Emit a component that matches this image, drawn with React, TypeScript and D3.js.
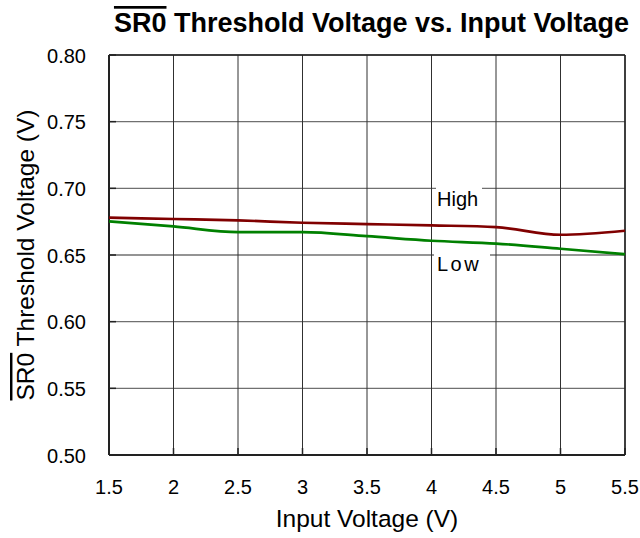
import React from "react";
import * as d3 from "d3";

const inputVoltage = [1.5, 2, 2.5, 3, 3.5, 4, 4.5, 5, 5.5];
const highThreshold = [0.678, 0.677, 0.676, 0.6742, 0.6732, 0.6722, 0.6709, 0.6652, 0.6682];
const lowThreshold = [0.6752, 0.6714, 0.6671, 0.6671, 0.6641, 0.6607, 0.6586, 0.6547, 0.6506];
const xTicks = [1.5, 2, 2.5, 3, 3.5, 4, 4.5, 5, 5.5];
const xTickLabels = ["1.5", "2", "2.5", "3", "3.5", "4", "4.5", "5", "5.5"];
const yTicks = [0.5, 0.55, 0.6, 0.65, 0.7, 0.75, 0.8];
const yTickLabels = ["0.50", "0.55", "0.60", "0.65", "0.70", "0.75", "0.80"];

const W = 640;
const H = 538;
const M = { left: 109, right: 15, top: 55, bottom: 83 };
const FONT = "'Liberation Sans', Arial, sans-serif";

export default function App() {
  const x = d3.scaleLinear().domain([1.5, 5.5]).range([M.left, W - M.right]);
  const y = d3.scaleLinear().domain([0.5, 0.8]).range([H - M.bottom, M.top]);
  const line = (vals: number[]) =>
    d3
      .line<number>()
      .x((_, i) => x(inputVoltage[i]))
      .y((d) => y(d))
      .curve(d3.curveMonotoneX)(vals) || "";
  const x0 = x(1.5), x1 = x(5.5), y0 = y(0.5), y1 = y(0.8);
  const cx = (x0 + x1) / 2;
  const cy = (y0 + y1) / 2;
  return (
    <svg width={W} height={H} style={{ position: "absolute", left: 0, top: 0, background: "#fff" }} fontFamily={FONT}>
      <rect x={0} y={0} width={W} height={H} fill="#fff" />
      {/* grid */}
      {yTicks.map((t) => (
        <line key={"gy" + t} x1={x0} x2={x1} y1={y(t)} y2={y(t)} stroke="#707070" strokeWidth={1.3} />
      ))}
      {xTicks.map((t) => (
        <line key={"gx" + t} x1={x(t)} x2={x(t)} y1={y1} y2={y0} stroke="#303030" strokeWidth={1} />
      ))}
      {/* inward ticks */}
      {yTicks.map((t) => (
        <line key={"ty" + t} x1={x0} x2={x0 + 7} y1={y(t)} y2={y(t)} stroke="#222" strokeWidth={1.5} />
      ))}
      {xTicks.map((t) => (
        <line key={"tx" + t} x1={x(t)} x2={x(t)} y1={y0} y2={y0 - 7} stroke="#222" strokeWidth={1.5} />
      ))}
      {/* frame */}
      <line x1={x0} x2={x1} y1={y1} y2={y1} stroke="#222" strokeWidth={1.5} />
      <line x1={x1} x2={x1} y1={y1} y2={y0} stroke="#222" strokeWidth={1.5} />
      <line x1={x0} x2={x0} y1={y1} y2={y0} stroke="#222" strokeWidth={2} />
      <line x1={x0} x2={x1} y1={y0} y2={y0} stroke="#222" strokeWidth={2} />
      {/* label boxes */}
      <rect x={436} y={184} width={46} height={26} fill="#fff" />
      <rect x={434} y={249} width={56} height={27} fill="#fff" />
      {/* series */}
      <path d={line(highThreshold)} fill="none" stroke="#800000" strokeWidth={2.7} />
      <path d={line(lowThreshold)} fill="none" stroke="#008000" strokeWidth={2.7} />
      <text x={437} y={206} fontSize={20} fill="#000">High</text>
      <text x={437} y={271} fontSize={20} fill="#000" letterSpacing={2.5}>Low</text>
      {/* tick labels */}
      {yTicks.map((t, i) => (
        <text key={"ly" + t} x={86} y={y(t) + 7.5} fontSize={20} textAnchor="end" fill="#000">{yTickLabels[i]}</text>
      ))}
      {xTicks.map((t, i) => (
        <text key={"lx" + t} x={x(t)} y={494} fontSize={20} textAnchor="middle" fill="#000">{xTickLabels[i]}</text>
      ))}
      {/* axis titles */}
      <text x={cx} y={527} fontSize={24.5} textAnchor="middle" fill="#000">Input Voltage (V)</text>
      <text transform={`translate(34,${cy}) rotate(-90)`} fontSize={24.5} textAnchor="middle" fill="#000">
        <tspan style={{ textDecoration: "overline" }}>SR0</tspan> Threshold Voltage (V)
      </text>
      {/* title */}
      <text x={371.5} y={32} fontSize={27} fontWeight="bold" textAnchor="middle" fill="#000">
        <tspan style={{ textDecoration: "overline" }}>SR0</tspan> Threshold Voltage vs. Input Voltage
      </text>
    </svg>
  );
}
